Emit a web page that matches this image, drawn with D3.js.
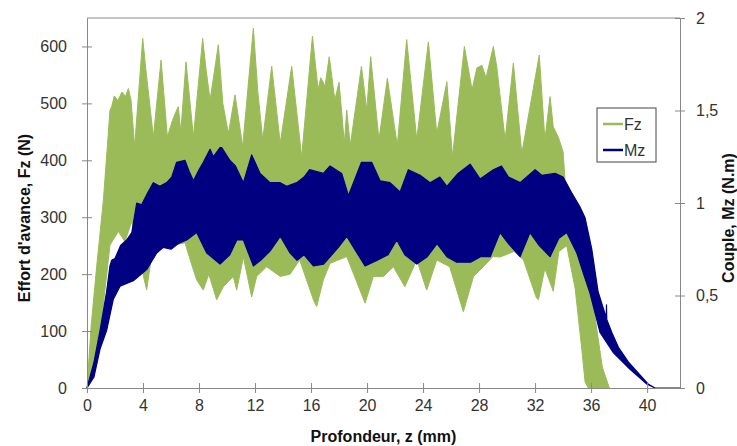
<!DOCTYPE html>
<html>
<head>
<meta charset="utf-8">
<script src="https://cdn.jsdelivr.net/npm/d3@7"></script>
<style>
  body { margin: 0; background: #fff; }
  svg text { font-family: "Liberation Sans", Arial, sans-serif; fill: #333; }
  .axis-title { font-weight: bold; font-size: 16px; fill: #111; }
</style>
</head>
<body>
<svg id="chart" width="737" height="446"></svg>
<script>
// Fz band (N): upper and lower envelopes of the oscillating signal
const fzTopZ = [0, 0.3, 0.69, 1.17, 1.5, 1.64, 1.76, 1.95, 2.2, 2.5, 2.75, 2.95, 3.15, 3.4, 3.98, 4.2, 4.74, 5.29, 5.74, 6.1, 6.4, 6.52, 6.7, 7.07, 7.6, 8.26, 8.5, 8.79, 9.0, 9.38, 9.7, 10.1, 10.57, 11.12, 11.88, 12.2, 12.55, 13.19, 13.8, 14.62, 15.33, 16.1, 16.5, 16.7, 17.0, 17.3, 17.7, 18.0, 18.38, 18.55, 18.8, 19.6, 19.98, 20.26, 20.85, 21.45, 22.16, 22.83, 23.55, 24.38, 24.98, 25.7, 26.1, 26.95, 27.5, 27.84, 28.2, 28.5, 29.02, 29.26, 29.86, 30.45, 31.05, 32.3, 32.7, 33.07, 33.3, 33.67, 34.0, 34.14, 34.5, 34.86, 35.5, 36.1, 36.8, 37.3];
const fzTop = [0, 110, 213, 330, 440, 488, 494, 513, 505, 520, 512, 526, 505, 424, 614, 560, 441, 576, 441, 470, 488, 494, 450, 573, 441, 614, 560, 506, 540, 603, 500, 447, 515, 424, 632, 520, 436, 565, 430, 565, 406, 618, 525, 545, 530, 582, 506, 537, 430, 488, 426, 565, 488, 582, 436, 544, 426, 612, 436, 608, 447, 538, 406, 600, 524, 562, 567, 545, 600, 565, 436, 571, 412, 585, 436, 512, 459, 440, 415, 365, 348, 318, 235, 155, 37, 0];
const fzLowZ = [0, 0.5, 1.0, 1.64, 2.24, 2.71, 3.19, 3.6, 4.0, 4.26, 4.6, 5.0, 6.0, 7.0, 7.5, 7.83, 8.3, 8.7, 9.26, 9.74, 10.45, 10.69, 11.17, 11.76, 12.12, 12.83, 13.8, 14.5, 15.19, 16.17, 16.4, 16.88, 17.36, 18.55, 19.86, 20.45, 21.17, 21.88, 22.7, 23.55, 24.26, 24.98, 25.9, 26.88, 27.6, 28.3, 29.0, 29.5, 30.5, 31.17, 32.1, 32.24, 32.7, 33.3, 33.7, 34.26, 34.86, 35.33, 35.57, 35.8];
const fzLow = [0, 30, 110, 251, 275, 257, 292, 260, 200, 172, 230, 245, 250, 255, 215, 190, 172, 200, 155, 178, 196, 172, 230, 160, 196, 213, 196, 200, 225, 155, 143, 190, 219, 231, 149, 196, 196, 213, 178, 225, 172, 225, 213, 134, 196, 213, 231, 230, 240, 225, 158, 155, 210, 170, 240, 250, 175, 70, 11, 0];

// Mz band (N.m)
const mzTopZ = [0, 0.5, 0.93, 1.4, 1.64, 1.76, 2.0, 2.4, 2.83, 3.2, 3.55, 3.9, 4.3, 4.74, 5.2, 5.69, 6.05, 6.4, 7.0, 7.3, 7.6, 8.0, 8.31, 8.79, 9.02, 9.5, 9.62, 10.21, 10.6, 11.17, 11.76, 12.36, 13.07, 13.8, 14.26, 14.98, 15.5, 15.9, 16.88, 17.36, 18.19, 18.67, 19.6, 20.33, 20.93, 21.64, 22.36, 22.95, 23.79, 24.5, 25.2, 25.7, 26.5, 27.36, 28.07, 29.02, 29.6, 30.1, 30.93, 32.0, 32.48, 33.43, 34.0, 34.5, 35.2, 35.57, 36.05, 36.5, 37.0, 37.08, 37.1, 37.12, 37.48, 37.95, 38.67, 39.38, 40.1, 40.57, 42.35];
const mzTop = [0, 0.14, 0.31, 0.52, 0.66, 0.69, 0.70, 0.77, 0.80, 0.84, 1.00, 0.99, 1.05, 1.11, 1.09, 1.11, 1.14, 1.22, 1.23, 1.17, 1.12, 1.18, 1.22, 1.29, 1.25, 1.30, 1.30, 1.23, 1.20, 1.11, 1.26, 1.16, 1.11, 1.11, 1.09, 1.11, 1.14, 1.18, 1.16, 1.20, 1.16, 1.04, 1.22, 1.22, 1.12, 1.11, 1.06, 1.18, 1.15, 1.11, 1.14, 1.09, 1.16, 1.21, 1.13, 1.18, 1.20, 1.14, 1.11, 1.18, 1.15, 1.16, 1.14, 1.07, 0.98, 0.92, 0.75, 0.52, 0.40, 0.38, 0.45, 0.37, 0.30, 0.22, 0.14, 0.08, 0.02, 0, 0];
const mzLowZ = [0, 0.5, 0.93, 1.4, 1.88, 2.36, 3.31, 4.26, 4.98, 5.45, 6.0, 6.5, 7.12, 7.83, 8.55, 9.5, 10.2, 10.7, 11.17, 11.88, 12.4, 13.07, 13.8, 14.5, 15.0, 15.5, 16.17, 16.9, 17.95, 18.55, 19.2, 19.86, 20.7, 21.5, 22.12, 22.7, 23.55, 24.3, 25.0, 25.7, 26.4, 27.4, 28.1, 28.8, 29.5, 30.1, 30.93, 31.64, 32.3, 33.07, 33.7, 34.26, 34.98, 35.45, 35.93, 36.64, 37.6, 38.8, 40.0, 40.57, 42.35];
const mzLow = [0, 0.06, 0.21, 0.31, 0.48, 0.55, 0.58, 0.64, 0.73, 0.76, 0.75, 0.78, 0.80, 0.84, 0.73, 0.67, 0.72, 0.80, 0.80, 0.66, 0.69, 0.74, 0.82, 0.73, 0.69, 0.72, 0.66, 0.67, 0.76, 0.82, 0.74, 0.66, 0.69, 0.72, 0.80, 0.72, 0.67, 0.71, 0.78, 0.71, 0.68, 0.68, 0.71, 0.71, 0.84, 0.78, 0.71, 0.84, 0.77, 0.71, 0.81, 0.84, 0.73, 0.62, 0.51, 0.30, 0.19, 0.10, 0.02, 0, 0];

const xTicks = [0, 4, 8, 12, 16, 20, 24, 28, 32, 36, 40];
const fzTicks = [0, 100, 200, 300, 400, 500, 600];
const mzTicks = [0, 0.5, 1, 1.5, 2];

const green = '#9bbb59';
const navy = '#000080';

const svg = d3.select('#chart');
const margin = { top: 18, right: 57, bottom: 58, left: 87 };
const width = +svg.attr('width');
const height = +svg.attr('height');
const innerWidth = width - margin.left - margin.right;
const innerHeight = height - margin.top - margin.bottom;

const xScale = d3.scaleLinear().domain([0, 42.35]).range([0, innerWidth]);
const yLeft = d3.scaleLinear().domain([0, 650]).range([innerHeight, 0]);
const yRight = d3.scaleLinear().domain([0, 2]).range([innerHeight, 0]);

const g = svg.append('g')
  .attr('transform', `translate(${margin.left},${margin.top})`);

// build a closed band polygon: upper envelope forward, lower envelope back
const band = (topZ, top, lowZ, low, yScale) => {
  const pts = topZ.map((z, i) => [xScale(z), yScale(top[i])]);
  for (let i = lowZ.length - 1; i >= 0; i--) pts.push([xScale(lowZ[i]), yScale(low[i])]);
  return d3.line()(pts) + 'Z';
};

g.append('path')
  .attr('d', band(fzTopZ, fzTop, fzLowZ, fzLow, yLeft))
  .attr('fill', green)
  .attr('stroke', green)
  .attr('stroke-width', 1);

g.append('path')
  .attr('d', band(mzTopZ, mzTop, mzLowZ, mzLow, yRight))
  .attr('fill', navy)
  .attr('stroke', navy)
  .attr('stroke-width', 1.2)
  .attr('stroke-linejoin', 'round');

// frame top
g.append('line')
  .attr('x1', 0).attr('x2', innerWidth)
  .attr('y1', 0).attr('y2', 0)
  .attr('stroke', '#888');

const styleAxis = sel => {
  sel.selectAll('.domain').attr('stroke', '#888');
  sel.selectAll('.tick line').attr('stroke', '#888');
  sel.selectAll('.tick text').style('font-size', '16px').attr('fill', '#333');
};

const xAxisG = g.append('g')
  .attr('transform', `translate(0,${innerHeight})`)
  .call(d3.axisBottom(xScale).tickValues(xTicks).tickSizeInner(4).tickSizeOuter(0).tickPadding(8));
xAxisG.selectAll('.tick line').attr('y1', -5).attr('y2', 5);
styleAxis(xAxisG);

const yAxisG = g.append('g')
  .call(d3.axisLeft(yLeft).tickValues(fzTicks).tickSizeOuter(0).tickPadding(14));
yAxisG.selectAll('.tick line').attr('x1', -5).attr('x2', 5);
styleAxis(yAxisG);

const yAxisR = g.append('g')
  .attr('transform', `translate(${innerWidth},0)`)
  .call(d3.axisRight(yRight).tickValues(mzTicks).tickSizeOuter(0).tickPadding(10)
    .tickFormat(d => String(d).replace('.', ',')));
yAxisR.selectAll('.tick line').attr('x1', -5).attr('x2', 5);
styleAxis(yAxisR);

svg.append('text')
  .attr('class', 'axis-title')
  .attr('x', margin.left + innerWidth / 2)
  .attr('y', 442)
  .attr('text-anchor', 'middle')
  .text('Profondeur, z (mm)');

svg.append('text')
  .attr('class', 'axis-title')
  .attr('transform', `translate(30,${margin.top + innerHeight / 2 + 15}) rotate(-90)`)
  .attr('text-anchor', 'middle')
  .text("Effort d'avance, Fz (N)");

svg.append('text')
  .attr('class', 'axis-title')
  .attr('transform', `translate(734,${margin.top + innerHeight / 2 + 15}) rotate(-90)`)
  .attr('text-anchor', 'middle')
  .text('Couple, Mz (N.m)');

// legend
const legend = svg.append('g').attr('transform', 'translate(597,108)');
legend.append('rect')
  .attr('width', 59).attr('height', 54)
  .attr('fill', '#fff').attr('stroke', '#444');
[['Fz', green], ['Mz', navy]].forEach(([name, color], i) => {
  const y = 16 + i * 26;
  legend.append('line')
    .attr('x1', 6).attr('x2', 26).attr('y1', y).attr('y2', y)
    .attr('stroke', color).attr('stroke-width', 2.5);
  legend.append('text')
    .attr('x', 27).attr('y', y + 6)
    .style('font-size', '16px')
    .text(name);
});
</script>
</body>
</html>
